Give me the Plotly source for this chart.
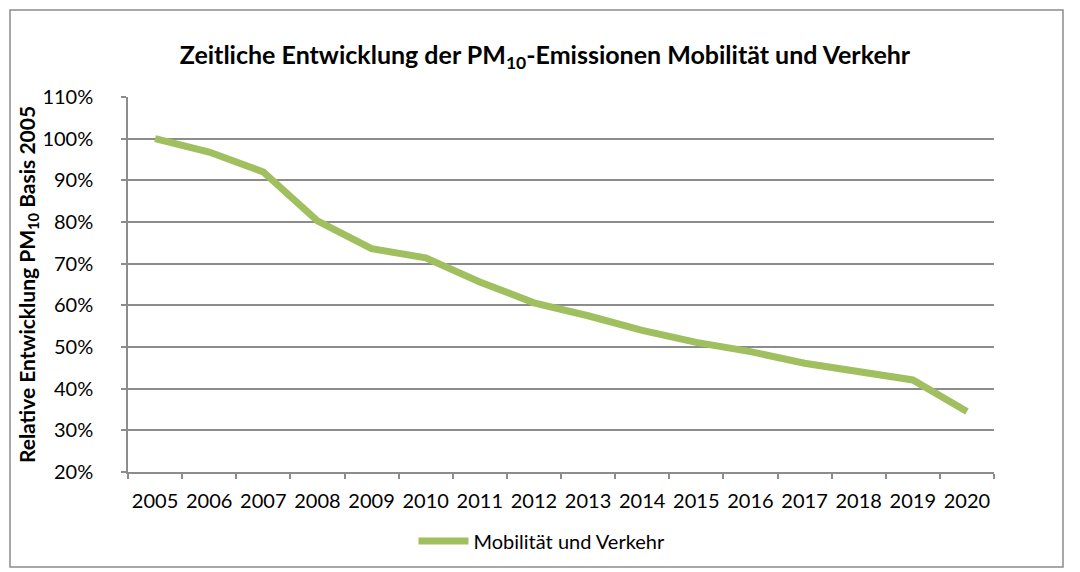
import plotly.graph_objects as go

years = ["2005", "2006", "2007", "2008", "2009", "2010", "2011", "2012",
         "2013", "2014", "2015", "2016", "2017", "2018", "2019", "2020"]
mobilitaet = [1.000, 0.968, 0.920, 0.803, 0.736, 0.714, 0.656, 0.606,
              0.575, 0.540, 0.511, 0.489, 0.461, 0.441, 0.421, 0.345]
y_ticks = [0.2, 0.3, 0.4, 0.5, 0.6, 0.7, 0.8, 0.9, 1.0, 1.1]
y_labels = ["20%", "30%", "40%", "50%", "60%", "70%", "80%", "90%", "100%", "110%"]

FONT = "Lato"
GRID = "#8c8c8c"

# page body has an 8px default margin -> figure coords = image coords - 8
L, T, R, B = 120, 89, 94, 108
PW, PH = 1080 - L - R, 572 - T - B

fig = go.Figure()
fig.add_trace(go.Scatter(
    x=years, y=mobilitaet, mode="lines", name="Mobilität und Verkehr",
    line=dict(color="#A0BF5E", width=7),
))

fig.update_layout(
    width=1080, height=572,
    paper_bgcolor="white", plot_bgcolor="white",
    margin=dict(l=L, r=R, t=T, b=B, autoexpand=False),
    font=dict(family=FONT, size=20, color="#000000"),
    title=dict(
        text="<b>Zeitliche Entwicklung der PM<sub>10</sub>-Emissionen Mobilität und Verkehr</b>",
        x=537 / 1080, xref="container", xanchor="center",
        y=1 - 47 / 572, yref="container", yanchor="middle",
        font=dict(family=FONT, size=25, color="#000000"),
    ),
    showlegend=True,
    legend=dict(
        orientation="h", x=534 / 1080, xanchor="center", xref="container",
        y=1 - 533 / 572, yanchor="middle", yref="container",
        font=dict(family=FONT, size=20), itemwidth=50,
    ),
    shapes=[dict(type="rect", xref="paper", yref="paper",
                 x0=(2 - L) / PW, x1=(1055 - L) / PW,
                 y0=(T + PH - 559) / PH, y1=(T + PH - 2) / PH,
                 line=dict(color="#8c8c8c", width=1.5))],
)

fig.update_xaxes(
    type="category", range=[-0.5, 15.5], tickson="boundaries",
    ticks="outside", ticklen=5, tickcolor=GRID, tickwidth=1.5,
    showline=True, linecolor=GRID, linewidth=1.5, showgrid=False,
    tickfont=dict(family=FONT, size=20), ticklabelstandoff=10,
    tickangle=0, automargin=False,
)
fig.update_yaxes(
    range=[0.2, 1.1], tickvals=y_ticks, ticktext=y_labels,
    ticks="outside", ticklen=5, tickcolor=GRID, tickwidth=1.5,
    showline=True, linecolor=GRID, linewidth=1.5,
    showgrid=True, gridcolor=GRID, gridwidth=1.5, zeroline=False,
    tickfont=dict(family=FONT, size=20), ticklabelstandoff=24,
    automargin=False,
    title=dict(text="<b>Relative Entwicklung PM<sub>10</sub> Basis 2005</b>",
               font=dict(family=FONT, size=21), standoff=0),
)

fig.write_html("out.html")
